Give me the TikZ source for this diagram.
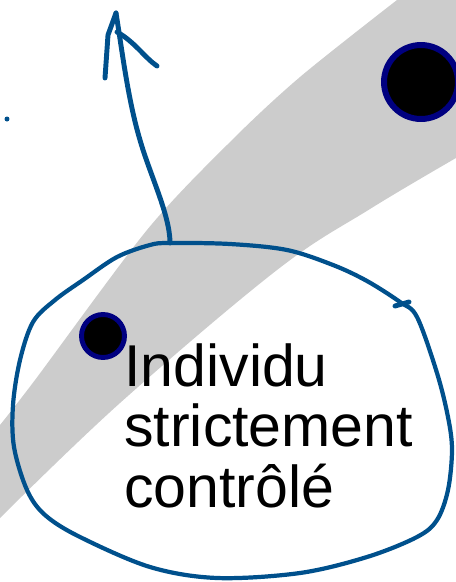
\documentclass[tikz,border=0pt]{standalone}
\usepackage{fontspec}
\setmainfont{Liberation Sans}
\usepackage{xcolor}
\usepackage{tikz}
\usetikzlibrary{positioning, calc}

\definecolor{penblue}{RGB}{0,80,140}
\definecolor{dotnavy}{RGB}{0,0,128}

\begin{document}
\begin{tikzpicture}[x=0.02cm, y=-0.02cm, line cap=round, line join=round]
    \tikzstyle{band} = [fill=gray!40, draw=none]
    \tikzstyle{bigdot} = [circle, draw=dotnavy, fill=black, line width=3.4pt, minimum size=1.48cm, inner sep=0pt]
    \tikzstyle{smalldot} = [circle, draw=dotnavy, fill=black, line width=2.8pt, minimum size=0.86cm, inner sep=0pt]
    \tikzstyle{speck} = [circle, fill=penblue, minimum size=0.1cm, inner sep=0pt]
    \tikzstyle{loop} = [draw=penblue, line width=2.4pt]
    \tikzstyle{pen} = [draw=penblue, line width=2.8pt]
    \tikzstyle{caption} = [anchor=north west, inner sep=0pt, align=left, font=\fontsize{33.6}{34.6}\selectfont]

    \useasboundingbox (0,0) rectangle (456,582);

    \fill[band] plot[smooth, tension=0.5] coordinates {(0,425) (35,380) (147,230) (230,142) (300,77) (397,0)}
        -- (456,0) -- (456,158)
        -- plot[smooth, tension=0.6] coordinates {(456,158) (370,209) (277,270) (120,403) (0,518)}
        -- cycle;

    \node [bigdot] (escaped) at (421,82) {};
    \node [smalldot] (individu) at (103,336) {};
    \node [speck] (speck) at (7,119) {};
    \node [caption] (label) at (124,343) {Individu\\strictement\\contrôlé};

    \draw [loop] plot[smooth cycle, tension=0.55] coordinates {
        (170,243) (230,244) (287,250) (333,265) (367,281) (400,302) (417,317)
        (437,373) (448,417) (452,450) (448,490) (437,520) (417,537) (367,557)
        (300,573) (217,578) (150,567) (80,537) (45,515) (27,490) (14,447)
        (13,405) (20,360) (33,322) (55,300) (83,280) (117,257) (150,245)};
    \draw [loop, line width=2.8pt] (395,306) -- (409,302);

    \coordinate (foot) at (170,243);
    \coordinate (tip) at (116,13);
    \path [pen] (foot) .. controls (170,215) and (150,175) .. (140,140)
        .. controls (128,100) and (122,50) .. (tip);
    \path [pen] (tip) -- (108,35) -- (105,78);
    \path [pen] (117,32) .. controls (135,42) and (145,58) .. (157,66);
\end{tikzpicture}
\end{document}
